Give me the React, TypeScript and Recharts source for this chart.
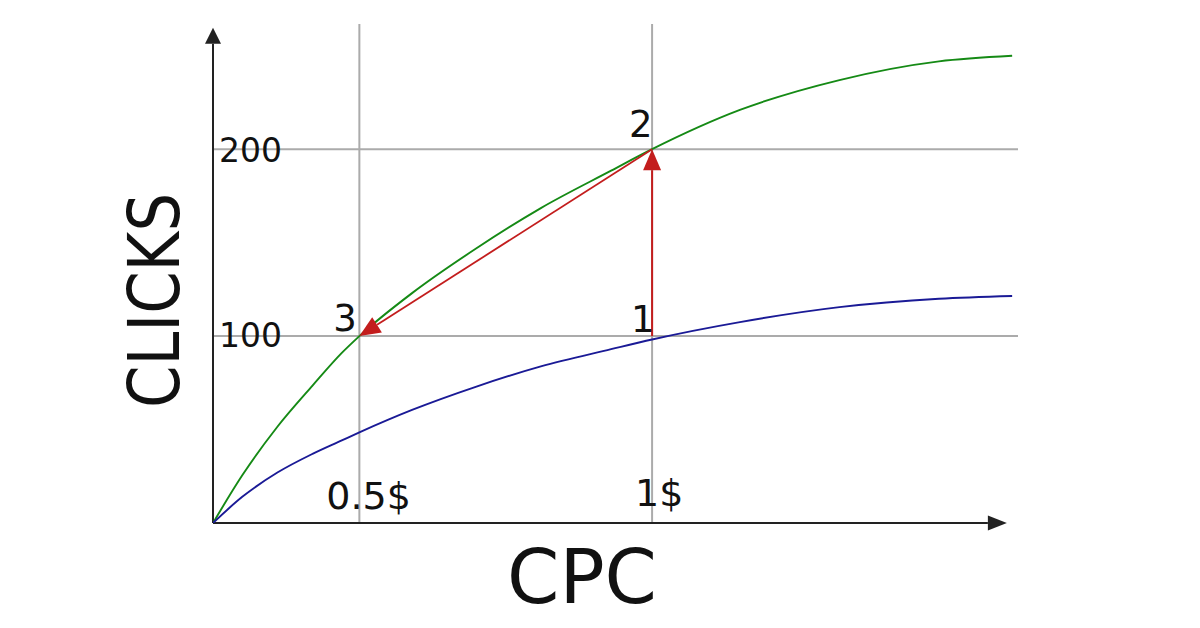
import React from 'react';
import { ComposedChart, Line, XAxis, YAxis, ReferenceLine, ReferenceDot } from 'recharts';

// CPC positions (schematic axis, $)
const cpcValues = [0.25, 0.3, 0.36, 0.42, 0.47, 0.5, 0.59, 0.7, 0.81, 0.93, 1.0, 1.15, 1.32, 1.49, 1.615];
// upper (green) curve – clicks
const clicksHigh = [0, 25.5, 51.5, 73.5, 91, 100, 123, 147, 168.5, 188.5, 200, 221, 237, 247, 250];
// lower (blue) curve – clicks
const clicksLow = [0, 14, 27, 37, 44.2, 48.5, 60.5, 73, 83.8, 93, 98.2, 107.5, 115.5, 120, 121.5];

const xTicks = [0.5, 1];
const xTickLabels = ['0.5$', '1$'];
const yTicks = [100, 200];
const yTickLabels = ['100', '200'];

const xDomain: [number, number] = [0.25, 1.625];
const yDomain: [number, number] = [0, 267];

// points of the path 1 -> 2 -> 3
const pointLabels = ['1', '2', '3'];
const pointCpc = [1.0, 1.0, 0.5];
const pointClicks = [100, 200, 100];

const xAxisEnd = 1.606;
const yAxisEnd = 265;

const data = cpcValues.map((c, i) => ({ cpc: c, high: clicksHigh[i], low: clicksLow[i] }));

const FONT = '"DejaVu Sans", Verdana, sans-serif';
const GRID = '#ababab';
const RED = '#c31d1d';
const AXIS = '#222222';

function arrowShape(color: string, width: number, headLen: number, headHalf: number) {
  return (p: any) => {
    const x1 = Number(p.x1), y1 = Number(p.y1), x2 = Number(p.x2), y2 = Number(p.y2);
    const dx = x2 - x1, dy = y2 - y1;
    const len = Math.sqrt(dx * dx + dy * dy) || 1;
    const ux = dx / len, uy = dy / len;
    const bx = x2 - ux * headLen, by = y2 - uy * headLen;
    const nx = -uy, ny = ux;
    const pts = `${x2},${y2} ${bx + nx * headHalf},${by + ny * headHalf} ${bx - nx * headHalf},${by - ny * headHalf}`;
    return (
      <g>
        <line x1={x1} y1={y1} x2={bx} y2={by} stroke={color} strokeWidth={width} />
        <polygon points={pts} fill={color} />
      </g>
    );
  };
}

const XTick = (props: any) => {
  const { x, y, payload } = props;
  const i = xTicks.indexOf(payload.value);
  const offs = [-33, -17];
  const base = [-14, -17];
  return (
    <text x={x + offs[i]} y={y + base[i]} fontFamily={FONT} fontSize={38} fill="#111" textAnchor="start">
      {xTickLabels[i]}
    </text>
  );
};

const YTick = (props: any) => {
  const { x, y, payload } = props;
  const i = yTicks.indexOf(payload.value);
  return (
    <text x={x + 6} y={y + (i === 0 ? 11 : 13)} fontFamily={FONT} fontSize={33} fill="#111" textAnchor="start">
      {yTickLabels[i]}
    </text>
  );
};

const labelOffsets = [
  { dx: -21, dy: -4 },
  { dx: -23, dy: -12 },
  { dx: -26, dy: -5 },
];

const CpcLabel = (p: any) => {
  const vb = p.viewBox || {};
  return (
    <text x={vb.x + 369} y={vb.y + 80} fontFamily={FONT} fontSize={75} fill="#111" textAnchor="middle">
      CPC
    </text>
  );
};

const ClicksLabel = (p: any) => {
  const vb = p.viewBox || {};
  const cx = vb.x + vb.width - 34;
  const cy = vb.y + vb.height / 2 + 27;
  return (
    <text
      x={cx}
      y={cy}
      fontFamily={FONT}
      fontSize={72}
      fill="#111"
      textAnchor="middle"
      textLength={215}
      lengthAdjust="spacingAndGlyphs"
      transform={`rotate(-90 ${cx} ${cy})`}
    >
      CLICKS
    </text>
  );
};

export default function App() {
  return (
    <div style={{ width: 1184, height: 612, background: '#fff' }}>
      <ComposedChart
        width={1184}
        height={612}
        data={data}
        margin={{ top: 16, right: 174, bottom: 67, left: 195 }}
      >
        <XAxis
          dataKey="cpc"
          type="number"
          domain={xDomain}
          ticks={xTicks}
          allowDataOverflow
          axisLine={false}
          tickLine={false}
          tickSize={0}
          tickMargin={0}
          height={30}
          interval={0}
          tick={<XTick />}
          label={<CpcLabel />}
        />
        <YAxis
          type="number"
          domain={yDomain}
          ticks={yTicks}
          allowDataOverflow
          axisLine={false}
          tickLine={false}
          tickSize={0}
          tickMargin={0}
          width={10}
          interval={0}
          tick={<YTick />}
          label={<ClicksLabel />}
        />

        {xTicks.map((t) => (
          <ReferenceLine key={'vx' + t} x={t} stroke={GRID} strokeWidth={2} />
        ))}
        {yTicks.map((t) => (
          <ReferenceLine key={'hy' + t} y={t} stroke={GRID} strokeWidth={2} />
        ))}

        <ReferenceLine
          segment={[{ x: xDomain[0], y: 0 }, { x: xDomain[0], y: yAxisEnd }]}
          shape={arrowShape(AXIS, 2, 16, 8)}
          ifOverflow="visible"
        />
        <ReferenceLine
          segment={[{ x: xDomain[0], y: 0 }, { x: xAxisEnd, y: 0 }]}
          shape={arrowShape(AXIS, 2, 19, 7.5)}
          ifOverflow="visible"
        />

        <Line type="monotone" dataKey="high" stroke="#158a15" strokeWidth={1.9} dot={false} isAnimationActive={false} />
        <Line type="monotone" dataKey="low" stroke="#1a1a96" strokeWidth={1.9} dot={false} isAnimationActive={false} />

        <ReferenceLine
          segment={[{ x: pointCpc[0], y: pointClicks[0] }, { x: pointCpc[1], y: pointClicks[1] }]}
          shape={arrowShape(RED, 2, 21, 9)}
          ifOverflow="visible"
        />
        <ReferenceLine
          segment={[{ x: pointCpc[1], y: pointClicks[1] }, { x: pointCpc[2], y: pointClicks[2] }]}
          shape={arrowShape(RED, 1.8, 21, 9)}
          ifOverflow="visible"
        />

        {pointLabels.map((lab, i) => (
          <ReferenceDot
            key={'pl' + lab}
            x={pointCpc[i]}
            y={pointClicks[i]}
            ifOverflow="visible"
            shape={(p: any) => (
              <text
                x={p.cx + labelOffsets[i].dx}
                y={p.cy + labelOffsets[i].dy}
                fontFamily={FONT}
                fontSize={37}
                fill="#111"
                textAnchor="start"
              >
                {lab}
              </text>
            )}
          />
        ))}
      </ComposedChart>
    </div>
  );
}
